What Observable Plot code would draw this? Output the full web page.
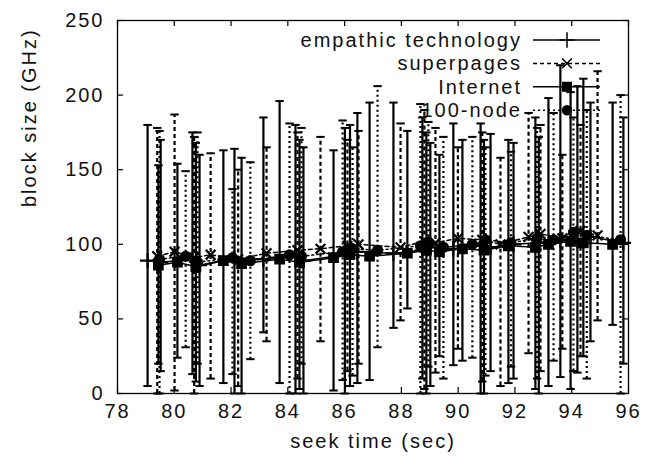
<!DOCTYPE html>
<html><head><meta charset="utf-8">
<script src="https://cdn.jsdelivr.net/npm/d3@7"></script>
<script src="https://cdn.jsdelivr.net/npm/@observablehq/plot@0.6"></script>
<style>body{margin:0;background:#fff}</style>
</head><body><div id="chart"></div>
<script>
const xTicks = [78, 80, 82, 84, 86, 88, 90, 92, 94, 96];
const yTicks = [0, 50, 100, 150, 200, 250];
const xTitle = "seek time (sec)";
const yTitle = "block size (GHz)";
const seriesNames = ["empathic technology", "superpages", "Internet", "100-node"];

// empathic technology
const xA = [79.06, 79.52, 80.64, 80.89, 82.12, 83.14, 84.27, 84.55, 86.01, 86.45, 87.72, 88.74, 89.02, 89.83, 90.79, 91.14, 91.95, 92.84, 93.60, 94.20, 94.66, 95.82];
const yA = [89, 88, 90, 86, 91, 90, 92, 89, 93, 95, 94, 96, 98, 97, 99, 98, 100, 101, 103, 102, 105, 101];
const loA = [5, 15, 13, 5, 0, 41, 0, 0, 0, 7, 44, 10, 5, 19, 0, 15, 10, 0, 11, 14, 35, 20];
const hiA = [180, 170, 175, 160, 164, 185, 180, 165, 178, 188, 195, 185, 168, 181, 181, 174, 168, 172, 220, 206, 195, 185];

// superpages
const xB = [79.40, 80.01, 80.70, 81.28, 82.25, 83.25, 84.34, 85.15, 86.10, 86.49, 87.97, 88.81, 89.20, 89.99, 90.85, 91.49, 92.48, 92.90, 93.67, 94.31, 94.91];
const yB = [92, 95, 91, 93, 90, 94, 96, 97, 99, 100, 98, 102, 101, 104, 103, 100, 105, 107, 104, 109, 106];
const loB = [0, 2, 0, 10, 5, 35, 10, 35, 15, 20, 49, 3, 14, 30, 8, 5, 27, 15, 30, 25, 49];
const hiB = [178, 187, 172, 161, 150, 165, 175, 172, 170, 176, 181, 190, 178, 165, 175, 158, 188, 180, 160, 180, 216];

// Internet
const xC = [79.44, 80.11, 80.76, 81.73, 82.37, 83.71, 84.41, 85.61, 86.19, 86.88, 88.21, 88.88, 89.34, 90.15, 90.91, 91.77, 92.72, 93.18, 93.96, 94.41, 95.44];
const yC = [86, 88, 85, 89, 87, 90, 88, 91, 93, 92, 94, 96, 95, 97, 96, 99, 98, 100, 102, 101, 100];
const loC = [20, 24, 8, 7, 0, 7, 3, 2, 5, 9, 57, 0, 25, 22, 0, 7, 3, 5, 3, 25, 46];
const hiC = [153, 154, 168, 163, 158, 196, 170, 163, 180, 195, 176, 175, 160, 170, 170, 170, 185, 198, 202, 211, 195];

// 100-node
const xD = [79.48, 80.40, 80.82, 82.05, 82.68, 84.06, 84.48, 85.93, 86.28, 87.16, 88.67, 88.95, 89.48, 90.50, 90.96, 91.86, 92.78, 93.36, 94.06, 94.53, 95.72];
const yD = [90, 92, 88, 91, 89, 93, 92, 95, 97, 96, 99, 101, 98, 100, 103, 101, 104, 103, 108, 106, 103];
const loD = [0, 31, 20, 13, 23, 0, 20, 9, 12, 31, 0, 18, 10, 24, 12, 18, 10, 22, 15, 10, 0];
const hiD = [176, 149, 175, 137, 155, 181, 178, 183, 165, 206, 194, 182, 172, 172, 165, 162, 178, 188, 185, 190, 200];

const seriesData = [[xA, yA, loA, hiA], [xB, yB, loB, hiB], [xC, yC, loC, hiC], [xD, yD, loD, hiD]];
const styles = [
  {dash: undefined, symbol: "plus", d3sym: d3.symbolPlus, fill: "none", r: 5},
  {dash: "4,3", symbol: "times", d3sym: d3.symbolTimes, fill: "none", r: 4.5},
  {dash: undefined, symbol: "square", d3sym: d3.symbolSquare, fill: "black", r: 4.8},
  {dash: "2,3", symbol: "circle", d3sym: d3.symbolCircle, fill: "black", r: 4.5}
];

const rows = [];
seriesNames.forEach((name, k) => {
  const [xs, ys, lo, hi] = seriesData[k];
  xs.forEach((x, i) => rows.push({series: name, k, x, y: ys[i], lo: lo[i], hi: hi[i]}));
});

const capSymbol = {draw(ctx, size) { const r = Math.sqrt(size / Math.PI); ctx.moveTo(-r, 0); ctx.lineTo(r, 0); }};

const W = 647, H = 466, mL = 117, mR = 19, mT = 20, mB = 73;
const pw = W - mL - mR, ph = H - mT - mB;

const marks = [];
seriesNames.forEach((name, k) => {
  const s = styles[k];
  const data = rows.filter(d => d.k === k);
  marks.push(Plot.ruleX(data, {x: "x", y1: "lo", y2: "hi", stroke: "black", strokeWidth: 2.2, strokeDasharray: s.dash}));
  marks.push(Plot.dot(data, {x: "x", y: "lo", symbol: capSymbol, r: 4.2, stroke: "black", fill: "none", strokeWidth: 2}));
  marks.push(Plot.dot(data, {x: "x", y: "hi", symbol: capSymbol, r: 4.2, stroke: "black", fill: "none", strokeWidth: 2}));
  marks.push(Plot.line(data, {x: "x", y: "y", stroke: "black", strokeWidth: 1.5, strokeDasharray: s.dash}));
  marks.push(Plot.dot(data, {x: "x", y: "y", symbol: s.symbol, r: s.r, stroke: "black", fill: s.fill, strokeWidth: 2.2}));
});

const chart = Plot.plot({
  width: W, height: H,
  marginLeft: mL, marginRight: mR, marginTop: mT, marginBottom: mB,
  style: {fontFamily: "'Liberation Sans', Arial, sans-serif", fontSize: "20px", letterSpacing: "2px", color: "#111", background: "white"},
  x: {domain: [78, 96]},
  y: {domain: [0, 250]},
  marks: [
    ...marks,
    Plot.tickX(xTicks, {x: d => d, insetTop: ph - 6, stroke: "black", strokeWidth: 1.2}),
    Plot.tickX(xTicks, {x: d => d, insetBottom: ph - 6, stroke: "black", strokeWidth: 1.2}),
    Plot.tickY(yTicks, {y: d => d, insetRight: pw - 6, stroke: "black", strokeWidth: 1.2}),
    Plot.tickY(yTicks, {y: d => d, insetLeft: pw - 6, stroke: "black", strokeWidth: 1.2}),
    Plot.frame({stroke: "black", strokeWidth: 1.3}),
    Plot.axisX(xTicks, {anchor: "bottom", tickSize: 0, tickPadding: 10, label: null}),
    Plot.axisY(yTicks, {anchor: "left", tickSize: 0, tickPadding: 13, label: null}),
    Plot.text([xTitle], {frameAnchor: "bottom", dy: 54, fontSize: 20}),
    Plot.text([yTitle], {frameAnchor: "left", dx: -88, rotate: -90, fontSize: 20})
  ]
});

// legend (layout only), placed beneath data like gnuplot's key
const svg = d3.select(chart);
const lg = svg.insert("g", ":first-child");
seriesNames.forEach((name, k) => {
  const s = styles[k];
  const y = 40 + k * 23.4;
  lg.append("text").attr("x", 522).attr("y", y).attr("text-anchor", "end").attr("dy", "0.35em")
    .attr("fill", "#111").text(name);
  lg.append("line").attr("x1", 533).attr("x2", 600).attr("y1", y).attr("y2", y)
    .attr("stroke", "black").attr("stroke-width", 1.5).attr("stroke-dasharray", s.dash || null);
  lg.append("path").attr("transform", `translate(567,${y})`)
    .attr("d", d3.symbol(s.d3sym, s.r * s.r * Math.PI)())
    .attr("fill", s.fill).attr("stroke", "black").attr("stroke-width", 1.5);
});
document.getElementById("chart").appendChild(chart);
</script>
</body></html>
